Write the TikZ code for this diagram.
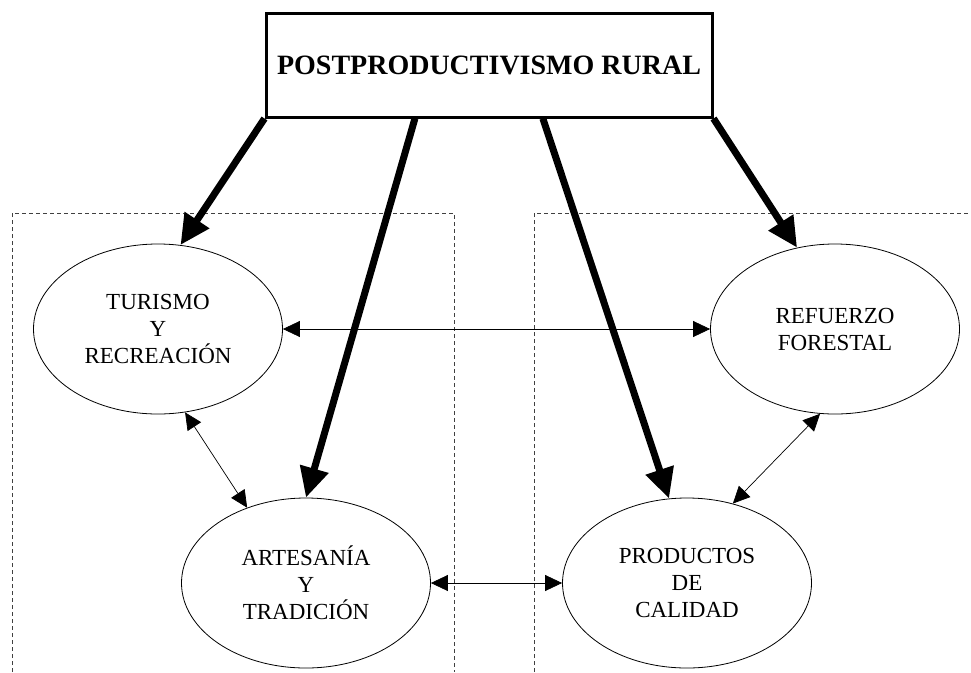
\documentclass[tikz,border=0pt]{standalone}
\usepackage{fontspec}
\setmainfont{Liberation Serif}
\usetikzlibrary{shapes.geometric,arrows.meta,calc}

\begin{document}
\begin{tikzpicture}[x=1pt,y=-1pt,
    titlebox/.style={draw,line width=3pt,minimum width=446pt,minimum height=104pt,inner sep=0pt,font=\fontsize{28}{32}\selectfont\bfseries},
    oval/.style={draw,ellipse,line width=0.8pt,minimum width=249pt,minimum height=170pt,inner sep=0pt,align=center,font=\fontsize{23}{27}\selectfont},
    bigarrow/.style={-{Triangle[length=30pt,width=28pt]},line width=7pt},
    link/.style={{Triangle[length=17pt,width=16pt]}-{Triangle[length=17pt,width=16pt]},line width=0.7pt},
    zone/.style={dash pattern=on 4pt off 3pt,line width=0.7pt,draw=black!75}]
            \useasboundingbox (0,0) rectangle (971,672);
            \draw[zone] (12,672) -- (12,213) -- (454,213) -- (454,672);
            \draw[zone] (534,672) -- (534,213) -- (971,213);
            \node[titlebox] (title) at (489,65) {POSTPRODUCTIVISMO RURAL};
            \node[oval] (tur) at (158,329) {TURISMO\\Y\\RECREACIÓN};
            \node[oval] (ref) at (835,329) {REFUERZO\\FORESTAL};
            \node[oval] (art) at (306,583) {ARTESANÍA\\Y\\TRADICIÓN};
            \node[oval] (prod) at (687,583) {PRODUCTOS\\DE\\CALIDAD};
            \draw[bigarrow] (title.south west) -- (tur.75);
            \draw[bigarrow] ($(title.south west)!0.335!(title.south east)$) -- (art.north);
            \draw[bigarrow] ($(title.south west)!0.62!(title.south east)$) -- (prod.102);
            \draw[bigarrow] (title.south east) -- (ref.115);
            \draw[link] (tur.east) -- (ref.west);
            \draw[link] (art.east) -- (prod.west);
            \draw[link] (tur.-72) -- (art.128);
            \draw[link] (ref.-100) -- (prod.60);
        \end{tikzpicture}
\end{document}
